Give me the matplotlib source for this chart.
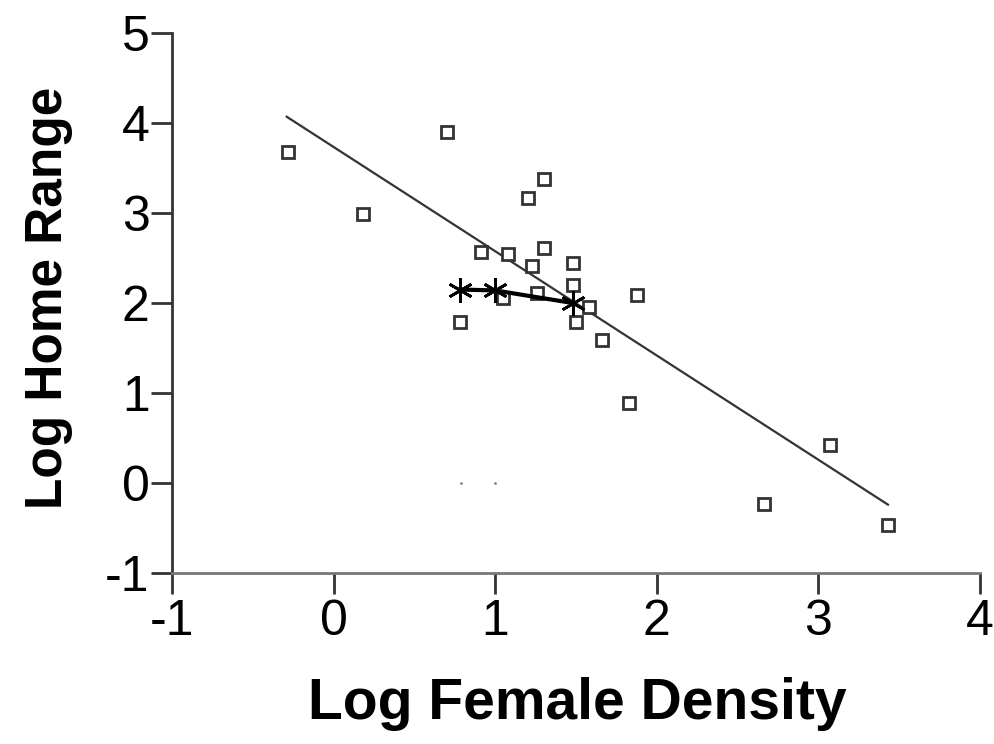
import matplotlib
matplotlib.use("Agg")
from matplotlib import pyplot as plt

# squares: observed points
sq_x = [-0.28, 0.18, 0.70, 1.30, 1.20, 0.91, 1.08, 1.23, 1.30, 1.48, 1.48, 0.78,
        1.05, 1.26, 1.58, 1.50, 1.88, 1.66, 1.83, 3.07, 2.66, 3.43]
sq_y = [3.68, 2.99, 3.90, 3.38, 3.17, 2.57, 2.54, 2.41, 2.61, 2.44, 2.20, 1.79,
        2.06, 2.11, 1.96, 1.79, 2.09, 1.59, 0.89, 0.42, -0.23, -0.47]

# stars joined by a line
st_x = [0.78, 1.00, 1.48]
st_y = [2.15, 2.14, 2.00]

# regression line end points
fit_x = [-0.29, 3.43]
fit_y = [4.07, -0.24]

# two faint dots near zero
dot_x = [0.79, 1.00]
dot_y = [0.0, 0.0]

plt.rcParams['font.family'] = ['Liberation Sans', 'DejaVu Sans']

fig = plt.figure(figsize=(9.94, 7.44), dpi=100)
ax = fig.add_axes([0.173, 0.2298, 0.813, 0.7258])

ax.plot(fit_x, fit_y, color='#333333', lw=1.6)
ax.plot(sq_x, sq_y, linestyle='none', marker='s', ms=8, mfc='white',
        mec='#333333', mew=2)
ax.plot(st_x, st_y, color='black', lw=3, marker=(6, 2, 0), ms=18, mew=2)
ax.plot(dot_x, dot_y, linestyle='none', marker='.', ms=2, color='#888888')

ax.set_xlim(-1, 4)
ax.set_ylim(-1, 5)
ax.set_xticks([-1, 0, 1, 2, 3, 4])
ax.set_yticks([-1, 0, 1, 2, 3, 4, 5])
ax.set_xticklabels(['-1', '0', '1', '2', '3', '4'])
ax.set_yticklabels(['-1', '0', '1', '2', '3', '4', '5'])
ax.spines['top'].set_visible(False)
ax.spines['right'].set_visible(False)
ax.spines['left'].set_linewidth(2)
ax.spines['bottom'].set_linewidth(2)
ax.spines['left'].set_color('#333333')
ax.spines['bottom'].set_color('#777777')
ax.tick_params(axis='both', direction='out', length=15, width=2, labelsize=36,
               colors='#333333', labelcolor='black')
ax.tick_params(axis='x', pad=4)
ax.tick_params(axis='y', pad=1)

ax.set_xlabel('Log Female Density', fontsize=41, fontweight='bold')
ax.set_ylabel('Log Home Range', fontsize=37, fontweight='bold')
ax.xaxis.set_label_coords(0.501, -0.193)
ax.yaxis.set_label_coords(-0.123, 0.509)

fig.savefig('out.png', dpi=100)
